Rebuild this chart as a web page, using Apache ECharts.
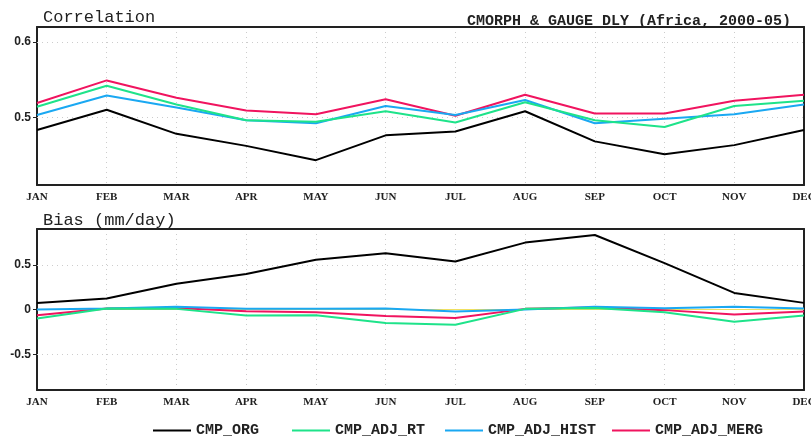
<!DOCTYPE html>
<html><head><meta charset="utf-8">
<script src="https://cdn.jsdelivr.net/npm/echarts@6/dist/echarts.min.js"></script>
<style>html,body{margin:0;padding:0;background:#fff}#c{width:811px;height:437px}</style>
</head><body><div id="c"></div>
<script>
var months = ['JAN','FEB','MAR','APR','MAY','JUN','JUL','AUG','SEP','OCT','NOV','DEC'];
var seriesNames = ['CMP_ORG','CMP_ADJ_RT','CMP_ADJ_HIST','CMP_ADJ_MERG'];
var corrOrg  = [0.483,0.510,0.478,0.462,0.443,0.476,0.481,0.508,0.468,0.451,0.463,0.483];
var corrRt   = [0.514,0.542,0.517,0.496,0.494,0.508,0.493,0.520,0.496,0.487,0.515,0.522];
var corrHist = [0.503,0.529,0.513,0.496,0.492,0.515,0.503,0.523,0.492,0.498,0.504,0.517];
var corrMerg = [0.519,0.549,0.526,0.509,0.504,0.524,0.502,0.530,0.505,0.505,0.522,0.530];
var biasOrg  = [0.074,0.122,0.289,0.396,0.556,0.630,0.537,0.748,0.833,0.519,0.185,0.074];
var biasRt   = [-0.100,0.010,0.007,-0.067,-0.063,-0.152,-0.170,0.007,0.018,-0.030,-0.137,-0.067];
var biasHist = [0.000,0.010,0.030,0.007,0.007,0.010,-0.022,0.000,0.030,0.015,0.030,0.010];
var biasMerg = [-0.063,0.010,0.018,-0.019,-0.030,-0.074,-0.096,0.007,0.022,-0.007,-0.056,-0.022];
var corrTicks = [0.5, 0.6];
var biasTicks = [-0.5, 0, 0.5];

var colors = ['#000000','#1ee38a','#1aa8f2','#f0145f'];
var corrData = [corrOrg, corrRt, corrHist, corrMerg];
var biasData = [biasOrg, biasRt, biasHist, biasMerg];
var legendLeft = [148, 287, 440, 607];

function gridLines(vals){
  return {silent:true, symbol:'none', label:{show:false},
    lineStyle:{color:'#cccccc', type:[1,4], width:1},
    data: vals.map(function(v){return {yAxis:v};})};
}

var series = [];
for (var i=0;i<4;i++){
  series.push({name:seriesNames[i], type:'line', xAxisIndex:0, yAxisIndex:0,
    data:corrData[i], symbol:'none', z:10-i,
    lineStyle:{color:colors[i], width:2}, itemStyle:{color:colors[i]},
    markLine: i===0 ? gridLines(corrTicks) : undefined});
}
for (var j=0;j<4;j++){
  var ml;
  if (j===0) ml = gridLines([-0.5,0.5]);
  if (j===1) ml = {silent:true, symbol:'none', label:{show:false},
    lineStyle:{color:'#f0e060', type:'solid', width:1}, data:[{yAxis:0}]};
  series.push({name:seriesNames[j], type:'line', xAxisIndex:1, yAxisIndex:1,
    data:biasData[j], symbol:'none', z:10-j,
    lineStyle:{color:colors[j], width:2}, itemStyle:{color:colors[j]},
    markLine: ml});
}

function xAxis(gi){
  return {type:'category', gridIndex:gi, data:months, boundaryGap:false,
    axisLine:{show:true, onZero:false, lineStyle:{color:'#222', width:2}},
    axisTick:{show:false},
    axisLabel:{color:'#222', fontFamily:'Liberation Serif', fontWeight:'bold', fontSize:11, margin:7, interval:0},
    splitLine:{show:true, lineStyle:{color:'#cccccc', type:[1,4], width:1}}};
}
function xTop(gi){
  return {type:'category', gridIndex:gi, data:months, boundaryGap:false, position:'top',
    axisLine:{show:true, onZero:false, lineStyle:{color:'#222', width:2}},
    axisTick:{show:false}, axisLabel:{show:false}, splitLine:{show:false}};
}
function yAxis(gi, mn, mx, ticks){
  return {type:'value', gridIndex:gi, min:mn, max:mx,
    axisLine:{show:true, onZero:false, lineStyle:{color:'#222', width:2}},
    axisTick:{show:true, length:4, customValues:ticks, lineStyle:{color:'#222'}},
    axisLabel:{customValues:ticks, color:'#222', fontFamily:'Liberation Sans', fontWeight:'bold', fontSize:12, margin:6,
      formatter:function(v){return (Math.round(v*10)/10).toString();}},
    splitLine:{show:false}};
}
function yRight(gi, mn, mx){
  return {type:'value', gridIndex:gi, min:mn, max:mx, position:'right',
    axisLine:{show:true, onZero:false, lineStyle:{color:'#222', width:2}},
    axisTick:{show:false}, axisLabel:{show:false}, splitLine:{show:false}};
}

var legends = seriesNames.map(function(n, k){
  return {data:[n], left:legendLeft[k], top:418, itemWidth:38, itemHeight:2, icon:'rect',
    selectedMode:false,
    textStyle:{fontFamily:'Liberation Mono', fontWeight:'bold', fontSize:15, color:'#222'}};
});

var chart = echarts.init(document.getElementById('c'));
chart.setOption({
  animation:false,
  backgroundColor:'#fff',
  title:[
    {text:'Correlation', left:38, top:4, textStyle:{fontFamily:'Liberation Mono', fontWeight:'normal', fontSize:17, color:'#222'}},
    {text:'CMORPH & GAUGE DLY (Africa, 2000-05)', right:15, top:9, textStyle:{fontFamily:'Liberation Mono', fontWeight:'bold', fontSize:15, color:'#222'}},
    {text:'Bias (mm/day)', left:38, top:207, textStyle:{fontFamily:'Liberation Mono', fontWeight:'normal', fontSize:17, color:'#222'}}
  ],
  legend:legends,
  grid:[
    {left:37, right:7, top:27, height:158, outerBoundsMode:'none', containLabel:false},
    {left:37, right:7, top:229, height:161, outerBoundsMode:'none', containLabel:false}
  ],
  xAxis:[xAxis(0), xAxis(1), xTop(0), xTop(1)],
  yAxis:[yAxis(0, 0.41, 0.62, corrTicks), yAxis(1, -0.9, 0.9, biasTicks), yRight(0, 0.41, 0.62), yRight(1, -0.9, 0.9)],
  series:series
});
</script></body></html>
